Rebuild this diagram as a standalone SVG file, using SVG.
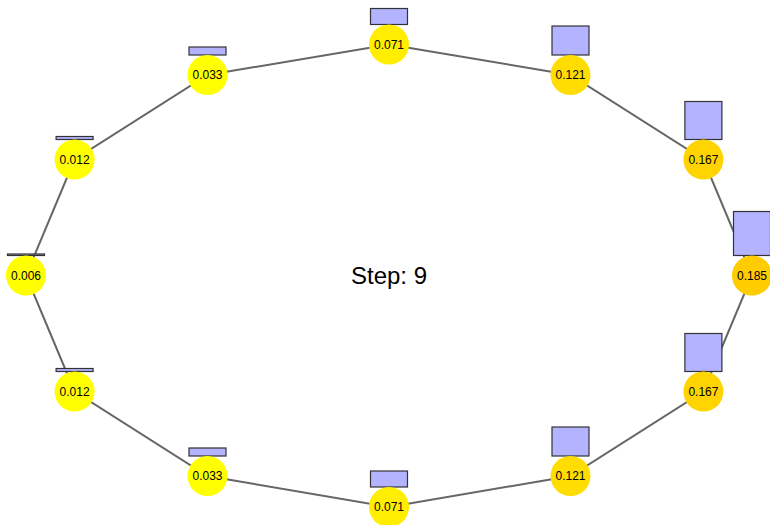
<svg xmlns="http://www.w3.org/2000/svg" width="770" height="525" viewBox="0 0 770 525">
<style>
.edge{stroke:#666;stroke-width:2;fill:none}
.bar{fill:#b3b3ff;stroke:#333;stroke-width:1.2}
.lbl{font-family:"Liberation Sans",Arial,sans-serif;font-size:12px;fill:#000;text-anchor:middle;dominant-baseline:central}
.title{font-family:"Liberation Sans",Arial,sans-serif;font-size:24px;fill:#000;text-anchor:middle;dominant-baseline:central}
</style>
<rect width="770" height="525" fill="#fff"/>
<g id="connectors">
<polygon class="edge" points="389,44.5 570.5,75 703.4,159.5 752,275.5 703.4,391.5 570.5,476 389,507 207.5,476 74.6,391.5 26,275.5 74.6,159.5 207.5,75"/>
</g>
<text class="title" x="389" y="275">Step: 9</text>
<g id="n0"><rect class="bar" x="370.5" y="8.5" width="37" height="16"/><circle cx="389" cy="44.5" r="20" fill="#ffee00"/><text class="lbl" x="389" y="44.5">0.071</text></g>
<g id="n1"><rect class="bar" x="552" y="26" width="37" height="29"/><circle cx="570.5" cy="75" r="20" fill="#ffdd00"/><text class="lbl" x="570.5" y="75">0.121</text></g>
<g id="n2"><rect class="bar" x="684.9" y="101.5" width="37" height="38"/><circle cx="703.4" cy="159.5" r="20" fill="#ffd400"/><text class="lbl" x="703.4" y="159.5">0.167</text></g>
<g id="n3"><rect class="bar" x="733.5" y="211.5" width="37" height="44"/><circle cx="752" cy="275.5" r="20" fill="#ffcc00"/><text class="lbl" x="752" y="275.5">0.185</text></g>
<g id="n4"><rect class="bar" x="684.9" y="333.5" width="37" height="38"/><circle cx="703.4" cy="391.5" r="20" fill="#ffd400"/><text class="lbl" x="703.4" y="391.5">0.167</text></g>
<g id="n5"><rect class="bar" x="552" y="427" width="37" height="29"/><circle cx="570.5" cy="476" r="20" fill="#ffdd00"/><text class="lbl" x="570.5" y="476">0.121</text></g>
<g id="n6"><rect class="bar" x="370.5" y="471" width="37" height="16"/><circle cx="389" cy="507" r="20" fill="#ffee00"/><text class="lbl" x="389" y="507">0.071</text></g>
<g id="n7"><rect class="bar" x="189" y="448" width="37" height="8"/><circle cx="207.5" cy="476" r="20" fill="#ffff00"/><text class="lbl" x="207.5" y="476">0.033</text></g>
<g id="n8"><rect class="bar" x="56.1" y="368.5" width="37" height="3"/><circle cx="74.6" cy="391.5" r="20" fill="#ffff00"/><text class="lbl" x="74.6" y="391.5">0.012</text></g>
<g id="n9"><rect class="bar" x="7.5" y="254" width="37" height="1.5"/><circle cx="26" cy="275.5" r="20" fill="#ffff00"/><text class="lbl" x="26" y="275.5">0.006</text></g>
<g id="n10"><rect class="bar" x="56.1" y="136.5" width="37" height="3"/><circle cx="74.6" cy="159.5" r="20" fill="#ffff00"/><text class="lbl" x="74.6" y="159.5">0.012</text></g>
<g id="n11"><rect class="bar" x="189" y="47" width="37" height="8"/><circle cx="207.5" cy="75" r="20" fill="#ffff00"/><text class="lbl" x="207.5" y="75">0.033</text></g>
</svg>
